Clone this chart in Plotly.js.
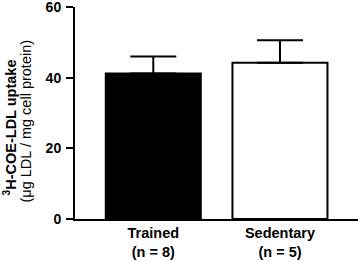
<!DOCTYPE html>
<html>
<head>
<meta charset="utf-8">
<script src="https://cdn.plot.ly/plotly-3.0.1.min.js"></script>
<style>html,body{margin:0;padding:0;background:#fff;}#chart{width:358px;height:261px;}</style>
</head>
<body>
<div id="chart"></div>
<script>
const categories = ["Trained<br>(n = 8)", "Sedentary<br>(n = 5)"];
const means = [41.2, 44.2];
const errorsUp = [4.8, 6.4];
const errorsDown = [0, 0];
const fillColors = ["#000000", "#ffffff"];
const yTickValues = [0, 20, 40, 60];
const yTitleLine1 = "<sup>3</sup>H-COE-LDL uptake";
const yTitleLine2 = "(μg LDL / mg cell protein)";

const FONT = "Liberation Sans, Arial, Helvetica, sans-serif";

const trace = {
  type: "bar",
  x: categories,
  y: means,
  width: 0.75,
  marker: { color: fillColors, line: { color: "#000", width: 2 } },
  error_y: {
    type: "data", symmetric: false, array: errorsUp, arrayminus: errorsDown,
    color: "#000", thickness: 2, width: 23
  },
  hoverinfo: "none"
};

const layout = {
  width: 358, height: 261,
  margin: { l: 75, r: 0, t: 7, b: 42, pad: 0 },
  paper_bgcolor: "#fff", plot_bgcolor: "#fff",
  showlegend: false,
  font: { family: FONT, color: "#000" },
  xaxis: {
    type: "category",
    range: [-0.618, 1.616],
    showline: true, linecolor: "#000", linewidth: 2,
    ticks: "", showgrid: false, zeroline: false,
    tickfont: { family: FONT, size: 14.5, color: "#000", weight: "bold" },
    fixedrange: true
  },
  yaxis: {
    range: [0, 60],
    tickvals: yTickValues,
    showline: true, linecolor: "#000", linewidth: 2,
    ticks: "outside", ticklen: 7, tickwidth: 2, tickcolor: "#000",
    ticklabeloverflow: "allow",
    ticklabelstandoff: 2,
    showgrid: false, zeroline: false,
    tickfont: { family: FONT, size: 14, color: "#000", weight: "bold" },
    automargin: false,
    fixedrange: true
  },
  annotations: [
    {
      text: yTitleLine1, xref: "paper", yref: "paper", x: 0, y: 0.432,
      xanchor: "center", yanchor: "middle", xshift: -65, textangle: -90, showarrow: false,
      font: { family: FONT, size: 14.5, color: "#000", weight: "bold" }
    },
    {
      text: yTitleLine2, xref: "paper", yref: "paper", x: 0, y: 0.46,
      xanchor: "center", yanchor: "middle", xshift: -49, textangle: -90, showarrow: false,
      font: { family: FONT, size: 14.5, color: "#000" }
    }
  ]
};

Plotly.newPlot("chart", [trace], layout, { staticPlot: true, displayModeBar: false });
</script>
</body>
</html>
